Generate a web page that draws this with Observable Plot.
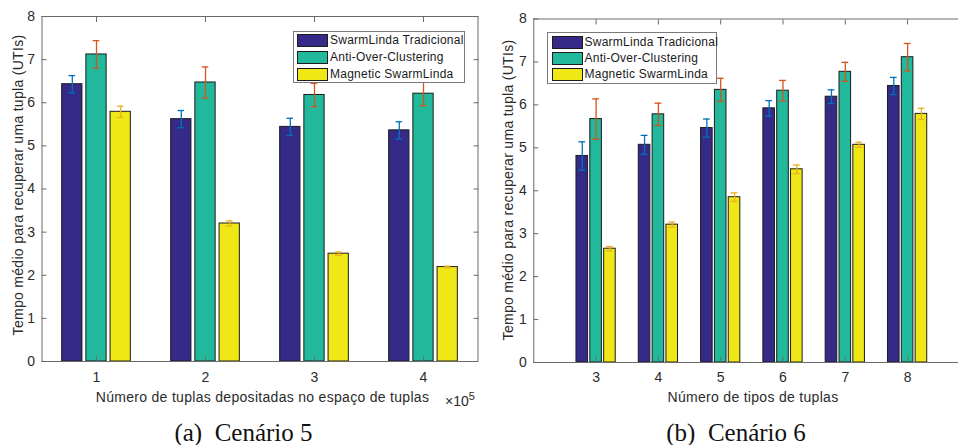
<!DOCTYPE html>
<html><head><meta charset="utf-8">
<script src="https://cdn.jsdelivr.net/npm/d3@7"></script>
<script src="https://cdn.jsdelivr.net/npm/@observablehq/plot@0.6"></script>
<style>
html,body{margin:0;padding:0;width:958px;height:445px;overflow:hidden;background:#fff;}
#root{position:relative;width:958px;height:445px;font-family:"Liberation Sans",Arial,sans-serif;color:#2b2b2b;}
.abs{position:absolute;white-space:nowrap;line-height:1;}
.c{transform:translate(-50%,-50%);}
.rot{transform:translate(-50%,-50%) rotate(-90deg);}
.sw{position:absolute;width:29px;height:11px;border:1px solid #1c1c1c;}
.lt{position:absolute;font-size:12px;letter-spacing:0.25px;line-height:1;white-space:nowrap;color:#1a1a1a;}
.lbox{position:absolute;border:1px solid #7a7a7a;background:#fff;box-sizing:border-box;}
.cap{font-family:"Liberation Serif","Times New Roman",serif;font-size:25px;color:#111;white-space:pre;}
</style></head><body><div id="root"></div>
<script>
// ---- data ----
const series = ["SwarmLinda Tradicional", "Anti-Over-Clustering", "Magnetic SwarmLinda"];
const colors = ["#352a87", "#22b89c", "#efe716"];
const errColors = ["#0072bd", "#d95319", "#edb120"];

// (a) Cenário 5 : x in units of 10^5 tuples
const catsA = [1, 2, 3, 4];
const tradA = [6.43, 5.62, 5.44, 5.36];
const tradErrA = [0.20, 0.20, 0.20, 0.20];
const antiA = [7.12, 6.47, 6.18, 6.21];
const antiErrA = [0.32, 0.36, 0.27, 0.28];
const magA = [5.79, 3.20, 2.50, 2.19];
const magErrA = [0.13, 0.06, 0.04, 0.02];

// (b) Cenário 6 : number of tuple types
const catsB = [3, 4, 5, 6, 7, 8];
const tradB = [4.81, 5.07, 5.46, 5.92, 6.19, 6.44];
const tradErrB = [0.33, 0.22, 0.21, 0.18, 0.16, 0.20];
const antiB = [5.67, 5.78, 6.35, 6.33, 6.77, 7.11];
const antiErrB = [0.47, 0.26, 0.27, 0.24, 0.22, 0.32];
const magB = [2.65, 3.21, 3.85, 4.50, 5.07, 5.79];
const magErrB = [0.05, 0.06, 0.10, 0.10, 0.06, 0.13];

const yTicks = [0, 1, 2, 3, 4, 5, 6, 7, 8];
const yLabel = "Tempo médio para recuperar uma tupla (UTIs)";
const xLabelA = "Número de tuplas depositadas no espaço de tuplas";
const xLabelB = "Número de tipos de tuplas";
const captionA = "(a)  Cenário 5";
const captionB = "(b)  Cenário 6";

const root = document.getElementById("root");
const OFF = 0.222, BW = 0.186;
const axisColor = "#6a6a6a";
const fmtInt = d3.format("d");

function chart(o) {
  const vals = o.vals, errs = o.errs;
  const marks = [];
  series.forEach((s, j) => {
    const rows = o.cats.map((c, i) => {
      const xc = c + (j - 1) * OFF;
      return {xc, x1: xc - BW / 2, x2: xc + BW / 2, v: vals[j][i], e: errs[j][i]};
    });
    marks.push(Plot.rectY(rows, {x1: "x1", x2: "x2", y1: 0, y2: "v", fill: colors[j], stroke: "#1c1c1c", strokeWidth: 1}));
    o.err.push({rows, j});
  });
  o.err.forEach(({rows, j}) => {
    marks.push(Plot.ruleX(rows, {x: "xc", y1: d => d.v - d.e, y2: d => d.v + d.e, stroke: errColors[j], strokeWidth: 1.3}));
    marks.push(Plot.ruleY(rows, {y: d => d.v + d.e, x1: d => d.xc - o.cap, x2: d => d.xc + o.cap, stroke: errColors[j], strokeWidth: 1.3}));
    marks.push(Plot.ruleY(rows, {y: d => d.v - d.e, x1: d => d.xc - o.cap, x2: d => d.xc + o.cap, stroke: errColors[j], strokeWidth: 1.3}));
  });
  marks.push(
    Plot.ruleX([o.xDomain[0]], {stroke: axisColor}),
    Plot.ruleY([0], {stroke: axisColor}),
    Plot.ruleY([8], {stroke: axisColor}),
    Plot.axisY({anchor: "left", ticks: yTicks, tickFormat: fmtInt, tickSize: -5, tickPadding: 12, label: null, stroke: axisColor}),
    Plot.axisX({anchor: "bottom", ticks: o.cats, tickFormat: fmtInt, tickSize: -5, tickPadding: o.xPad, label: null, stroke: axisColor}),
    Plot.axisX({anchor: "top", ticks: o.cats, tickSize: -5, tickFormat: () => "", label: null, stroke: axisColor})
  );
  if (o.right) {
    marks.push(
      Plot.ruleX([o.xDomain[1]], {stroke: axisColor}),
      Plot.axisY({anchor: "right", ticks: yTicks, tickSize: -5, tickFormat: () => "", label: null, stroke: axisColor})
    );
  }
  const p = Plot.plot({
    width: o.width, height: o.height,
    marginLeft: o.mL, marginRight: o.mR, marginTop: o.mT, marginBottom: o.mB,
    x: {domain: o.xDomain},
    y: {domain: [0, 8]},
    style: {fontFamily: '"Liberation Sans", Arial, sans-serif', fontSize: "14px", color: "#2b2b2b", background: "transparent", overflow: "visible"},
    marks
  });
  p.style.position = "absolute";
  p.style.left = o.left + "px";
  p.style.top = "0px";
  root.appendChild(p);
}

chart({cats: catsA, vals: [tradA, antiA, magA], errs: [tradErrA, antiErrA, magErrA], err: [],
  xDomain: [0.5, 4.5], width: 480, height: 410, mL: 41.5, mR: 2.5, mT: 16, mB: 49, left: 0, cap: 0.03, xPad: 16, right: true});
chart({cats: catsB, vals: [tradB, antiB, magB], errs: [tradErrB, antiErrB, magErrB], err: [],
  xDomain: [2, 2 + (478 - 53.3) / 62.3], width: 478, height: 410, mL: 53.3, mR: 0, mT: 18.5, mB: 48, left: 480, cap: 0.055, xPad: 15, right: false});

function addText(txt, x, y, cls, style) {
  const d = document.createElement("div");
  d.className = "abs " + cls;
  d.textContent = txt;
  d.style.left = x + "px"; d.style.top = y + "px";
  Object.assign(d.style, style || {});
  root.appendChild(d);
  return d;
}
const labStyle = {fontSize: "14px", letterSpacing: "0.3px"};
addText(yLabel, 17.5, 185, "rot", labStyle);
addText(yLabel, 508, 190, "rot", labStyle);
addText(xLabelA, 262.5, 397, "c", labStyle);
addText(xLabelB, 753, 397, "c", labStyle);
const ex = addText("", 445, 391, "", {fontSize: "14px"});
ex.innerHTML = "×10<sup style='font-size:11px;vertical-align:6px'>5</sup>";
addText(captionA, 243.5, 432, "c cap");
addText(captionB, 736, 432, "c cap");

function legend(bx, by, bw, bh, sx, sy, pitch) {
  const b = document.createElement("div");
  b.className = "lbox";
  Object.assign(b.style, {left: bx + "px", top: by + "px", width: bw + "px", height: bh + "px"});
  root.appendChild(b);
  series.forEach((s, j) => {
    const sw = document.createElement("div");
    sw.className = "sw";
    Object.assign(sw.style, {left: sx + "px", top: (sy + j * pitch) + "px", background: colors[j]});
    root.appendChild(sw);
    const t = document.createElement("div");
    t.className = "lt";
    t.textContent = s;
    Object.assign(t.style, {left: (sx + 33) + "px", top: (sy + j * pitch) + "px"});
    root.appendChild(t);
  });
}
legend(293, 31, 172, 52, 297, 34, 16.8);
legend(547, 32, 170, 52, 551.5, 35.5, 16.4);
</script>
</body></html>
